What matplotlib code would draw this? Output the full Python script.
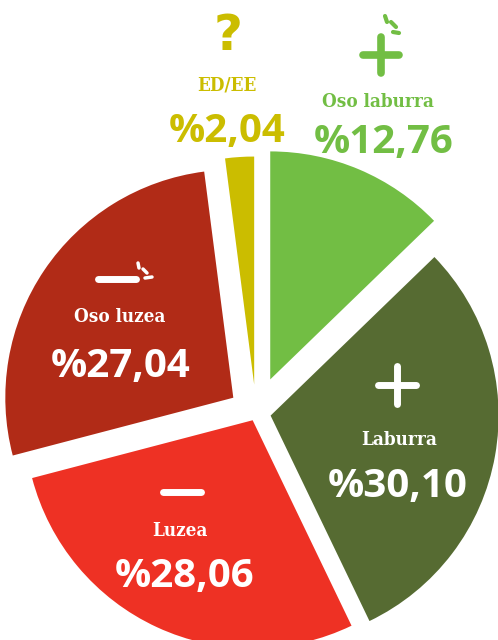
import matplotlib
matplotlib.use("Agg")
import matplotlib.pyplot as plt
from matplotlib.lines import Line2D

# data (clockwise from 12 o'clock)
categories = ["Oso laburra", "Laburra", "Luzea", "Oso luzea", "ED/EE"]
values = [12.76, 30.10, 28.06, 27.04, 2.04]
value_labels = ["%12,76", "%30,10", "%28,06", "%27,04", "%2,04"]
colors = ["#72BE44", "#566B32", "#EE3124", "#B12B17", "#CBBD00"]
explode = [0.16, 0.065, 0.035, 0.12, 0.125]

W, H = 498, 640
fig = plt.figure(figsize=(W / 100, H / 100), dpi=100)

# pie axes: radius 1, centre placed at pixel (256, 413)
R, cx, cy = 228.0, 256.0, 413.0
ax = fig.add_axes([0, 0, 1, 1])
ax.pie(values, colors=colors, startangle=90, counterclock=False,
       explode=explode, radius=1, wedgeprops=dict(linewidth=0))
ax.set_xlim(-cx / R, (W - cx) / R)
ax.set_ylim(-(H - cy) / R, cy / R)
ax.set_aspect("equal")
ax.axis("off")

# overlay in pixel coordinates for text and icons
ov = fig.add_axes([0, 0, 1, 1])
ov.set_xlim(0, W)
ov.set_ylim(H, 0)
ov.axis("off")
ov.patch.set_alpha(0)

lab_font = dict(family="DejaVu Serif", stretch="condensed", weight="bold",
                fontsize=13.5, ha="center", va="baseline")
pct_font = dict(family="Open Sans", weight="bold", fontsize=29, ha="center", va="baseline")

# (label x, label baseline, pct x, pct baseline, text colour)
pos = {
    "Oso laburra": (378, 107, 384, 153, colors[0]),
    "Laburra": (399, 445, 398, 497, "white"),
    "Luzea": (180, 536, 185, 587, "white"),
    "Oso luzea": (120, 322, 121, 377, "white"),
    "ED/EE": (227, 90, 227, 142, colors[4]),
}
for cat, pct in zip(categories, value_labels):
    lx, ly, px, py, c = pos[cat]
    ov.text(lx, ly, cat, color=c, **lab_font)
    ov.text(px, py, pct, color=c, **pct_font)


def seg(x0, y0, x1, y1, c, lw):
    ov.add_line(Line2D([x0, x1], [y0, y1], color=c, lw=lw, solid_capstyle="round"))


# question mark
ov.text(228, 50, "?", color=colors[4], family="DejaVu Sans", weight="bold",
        fontsize=36, ha="center", va="baseline")

# plus with sparkle (Oso laburra)
seg(363, 55, 399, 55, colors[0], 5.5)
seg(381, 37, 381, 73, colors[0], 5.5)
seg(385, 16, 387, 22, colors[0], 3)
seg(391, 22, 396, 27, colors[0], 3)
seg(393, 32, 399, 33, colors[0], 3)

# plus (Laburra)
seg(378, 385, 416, 385, "white", 5)
seg(397, 366, 397, 404, "white", 5)

# minus (Luzea)
seg(163, 492, 201, 492, "white", 5)

# minus with sparkle (Oso luzea)
seg(98, 279, 136, 279, "white", 5)
seg(138, 263, 139, 268, "white", 2.5)
seg(143, 269, 147, 273, "white", 2.5)
seg(145, 278, 152, 277, "white", 2.5)

fig.savefig("out.png", dpi=100)
